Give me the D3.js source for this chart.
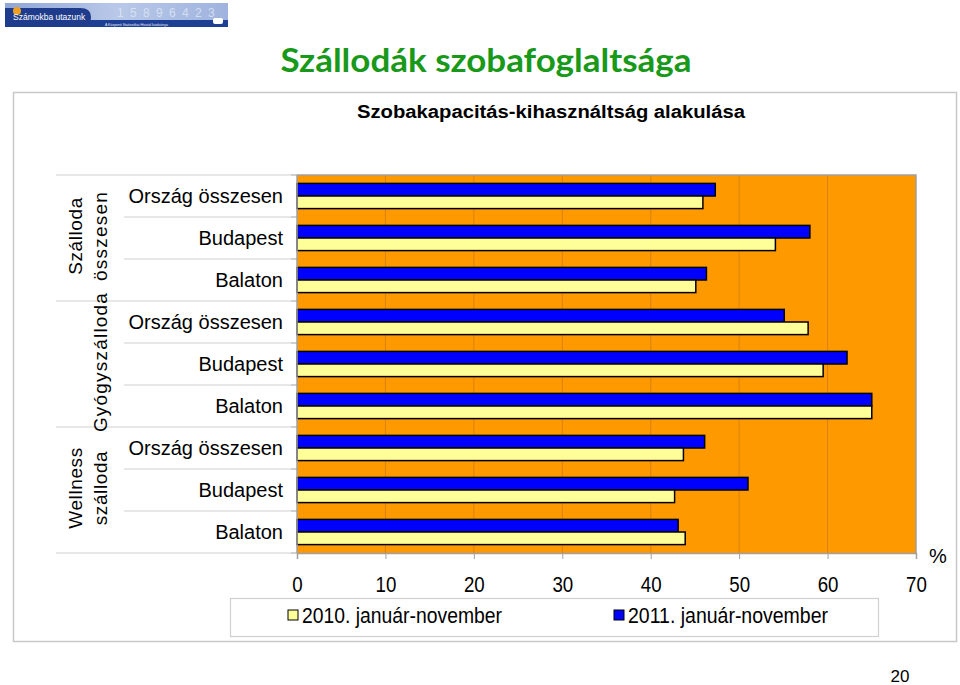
<!DOCTYPE html>
<html><head><meta charset="utf-8">
<script src="https://cdn.jsdelivr.net/npm/d3@7/dist/d3.min.js"></script>
<style>
html,body{margin:0;padding:0;background:#fff;}
svg{display:block;}
</style></head>
<body>
<svg id="chart" width="960" height="685"></svg>
<script>
// ---- data ----
const categories = ["Ország összesen","Budapest","Balaton","Ország összesen","Budapest","Balaton","Ország összesen","Budapest","Balaton"];
const groups = [["Szálloda","összesen"],["","Gyógyszálloda"],["Wellness","szálloda"]];
const seriesNames = ["2010. január-november","2011. január-november"];
const values2010 = [45.9, 54.1, 45.1, 57.8, 59.5, 65.0, 43.7, 42.7, 43.9];
const values2011 = [47.3, 58.0, 46.3, 55.1, 62.2, 65.0, 46.1, 51.0, 43.1];
const xTicks = [0,10,20,30,40,50,60,70];
const mainTitle = "Szállodák szobafoglaltsága";
const chartTitle = "Szobakapacitás-kihasználtság alakulása";
const unitLabel = "%";
const pageNumber = "20";

const svg = d3.select("#chart");
const FONT = "'Liberation Sans', Arial, sans-serif";

// ---- logo banner ----
const defs = svg.append("defs");
const lg = defs.append("linearGradient").attr("id","bannerGrad").attr("x1","0").attr("x2","1");
lg.append("stop").attr("offset","0").attr("stop-color","#8fa6d6");
lg.append("stop").attr("offset","0.5").attr("stop-color","#b9c8e8");
lg.append("stop").attr("offset","1").attr("stop-color","#9fb3de");
const logo = svg.append("g").attr("transform","translate(5,3)");
logo.append("rect").attr("width",223).attr("height",24).attr("fill","url(#bannerGrad)");
logo.append("rect").attr("y",17).attr("width",223).attr("height",7).attr("fill","#1d3f94");
logo.append("path").attr("d","M0,5 H75 Q86,5 86,14 Q86,24 75,24 H0 Z").attr("fill","#1f3c8c");
logo.append("circle").attr("cx",12).attr("cy",8).attr("r",4).attr("fill","#f0a020");
logo.append("text").attr("x",8).attr("y",17).attr("font-family",FONT).attr("font-size",8.5)
  .attr("fill","#fff").text("Számokba utazunk");
logo.append("text").attr("x",112).attr("y",14).attr("font-family",FONT).attr("font-size",12)
  .attr("fill","#dfe7f6").attr("opacity",0.8).attr("letter-spacing",1.5).text("1 5 8 9 6 4 2 3");
logo.append("text").attr("x",100).attr("y",22.5).attr("font-family",FONT).attr("font-size",3.5)
  .attr("fill","#e8eefc").text("A Központi Statisztikai Hivatal kiadványa");
logo.append("rect").attr("x",208).attr("y",15).attr("width",10).attr("height",6).attr("rx",2).attr("fill","#fff");

// ---- main title ----
svg.append("text").attr("x",486).attr("y",72).attr("text-anchor","middle")
  .attr("font-family","Lato, 'Open Sans', sans-serif").attr("font-weight","bold")
  .attr("font-size",33).attr("textLength",411).attr("lengthAdjust","spacingAndGlyphs")
  .attr("fill","#18991a").text(mainTitle);

// ---- chart frame ----
svg.append("rect").attr("x",13.5).attr("y",92.5).attr("width",943).attr("height",549)
  .attr("fill","#fff").attr("stroke","#c8c8c8").attr("stroke-width",1.5);

svg.append("text").attr("x",551).attr("y",118).attr("text-anchor","middle")
  .attr("font-family",FONT).attr("font-weight","bold").attr("font-size",18)
  .attr("textLength",388).attr("lengthAdjust","spacingAndGlyphs")
  .attr("fill","#000").text(chartTitle);

// ---- plot ----
const L = 297, R = 916, T = 175, B = 553;
const x = d3.scaleLinear().domain([0,70]).range([L,R]);
const y = d3.scaleBand().domain(d3.range(categories.length)).range([T,B]).padding(0);
const ySub = d3.scaleBand().domain(["2011","2010"]).range([0,y.bandwidth()]).paddingInner(0).paddingOuter(0.667);

svg.append("rect").attr("x",L).attr("y",T).attr("width",R-L).attr("height",B-T).attr("fill","#ff9900");

// gridlines
svg.append("g").selectAll("line").data(xTicks.filter(d=>d>0 && d<70)).join("line")
  .attr("x1",d=>x(d)).attr("x2",d=>x(d)).attr("y1",T).attr("y2",B)
  .attr("stroke","#cf7d10").attr("stroke-width",0.8);

// plot border top/right
svg.append("path").attr("d",`M${L},${T}H${R}V${B}`).attr("fill","none").attr("stroke","#a0a0a0").attr("stroke-width",1.5);

// bars
const rows = categories.map((c,i)=>({i, v2010: values2010[i], v2011: values2011[i]}));
const barG = svg.append("g");
rows.forEach(r=>{
  [["2011",r.v2011,"#0000ff"],["2010",r.v2010,"#ffff99"]].forEach(([k,v,col])=>{
    barG.append("rect")
      .attr("x",x(0)).attr("y",y(r.i)+ySub(k))
      .attr("width",x(v)-x(0)).attr("height",ySub.bandwidth())
      .attr("fill",col).attr("stroke","#000").attr("stroke-width",1.5);
  });
});

// x axis
const xAxis = d3.axisBottom(x).tickValues(xTicks).tickSize(6).tickPadding(17).tickFormat(d3.format("d"));
const gx = svg.append("g").attr("transform",`translate(0,${B})`).call(xAxis);
gx.select(".domain").attr("stroke","#a0a0a0").attr("stroke-width",1.5);
gx.selectAll(".tick line").attr("stroke","#a0a0a0");
gx.selectAll("text").attr("font-family",FONT).attr("font-size",22).attr("fill","#000")
  .attr("transform","scale(0.85,1)");

// y axis line + ticks
svg.append("line").attr("x1",L).attr("x2",L).attr("y1",T).attr("y2",B).attr("stroke","#a0a0a0").attr("stroke-width",1.5);
const bounds = d3.range(categories.length+1).map(i=> i<categories.length ? y(i) : B);
svg.append("g").selectAll("line").data(bounds).join("line")
  .attr("x1",L-6).attr("x2",L).attr("y1",d=>d).attr("y2",d=>d).attr("stroke","#a0a0a0");

// separator lines in label area
svg.append("g").selectAll("line").data(bounds).join("line")
  .attr("x1",(d,i)=> i%3===0 ? 56 : 124).attr("x2",L-6)
  .attr("y1",d=>d).attr("y2",d=>d).attr("stroke","#d0d0d0").attr("stroke-width",1.2);

// category labels
svg.append("g").selectAll("text").data(categories).join("text")
  .attr("x",283).attr("y",(d,i)=>y(i)+y.bandwidth()/2+7)
  .attr("text-anchor","end").attr("font-family",FONT).attr("font-size",20).attr("fill","#000")
  .text(d=>d);

// group labels (rotated)
groups.forEach((lines,gi)=>{
  const cy = (y(gi*3) + (gi*3+3<categories.length ? y(gi*3+3) : B))/2 - 2;
  lines.forEach((t,li)=>{
    if(!t) return;
    const cx = li===0 ? 82 : 107;
    svg.append("text").attr("transform",`translate(${cx},${cy}) rotate(-90)`)
      .attr("text-anchor","middle").attr("font-family",FONT).attr("font-size",19)
      .attr("letter-spacing", gi===1 || (gi===0 && li===1) ? 1.2 : 0.6)
      .attr("fill","#000").text(t);
  });
});

// unit label
svg.append("text").attr("x",938).attr("y",563).attr("text-anchor","middle")
  .attr("font-family",FONT).attr("font-size",20).text(unitLabel);

// legend
const leg = svg.append("g");
leg.append("rect").attr("x",230.5).attr("y",598.5).attr("width",648).attr("height",38)
  .attr("fill","#fff").attr("stroke","#d0d0d0").attr("stroke-width",1.2);
const legItems = [{name:seriesNames[0], col:"#ffff99", x:288},{name:seriesNames[1], col:"#0000ff", x:614}];
legItems.forEach(it=>{
  leg.append("rect").attr("x",it.x).attr("y",610).attr("width",10).attr("height",10)
    .attr("fill",it.col).attr("stroke","#000").attr("stroke-width",1);
  leg.append("text").attr("x",it.x+14).attr("y",623).attr("font-family",FONT).attr("font-size",22)
    .attr("textLength",200).attr("lengthAdjust","spacingAndGlyphs")
    .attr("fill","#000").text(it.name);
});

// page number
svg.append("text").attr("x",900).attr("y",682).attr("text-anchor","middle")
  .attr("font-family",FONT).attr("font-size",17).text(pageNumber);
</script>
</body></html>
